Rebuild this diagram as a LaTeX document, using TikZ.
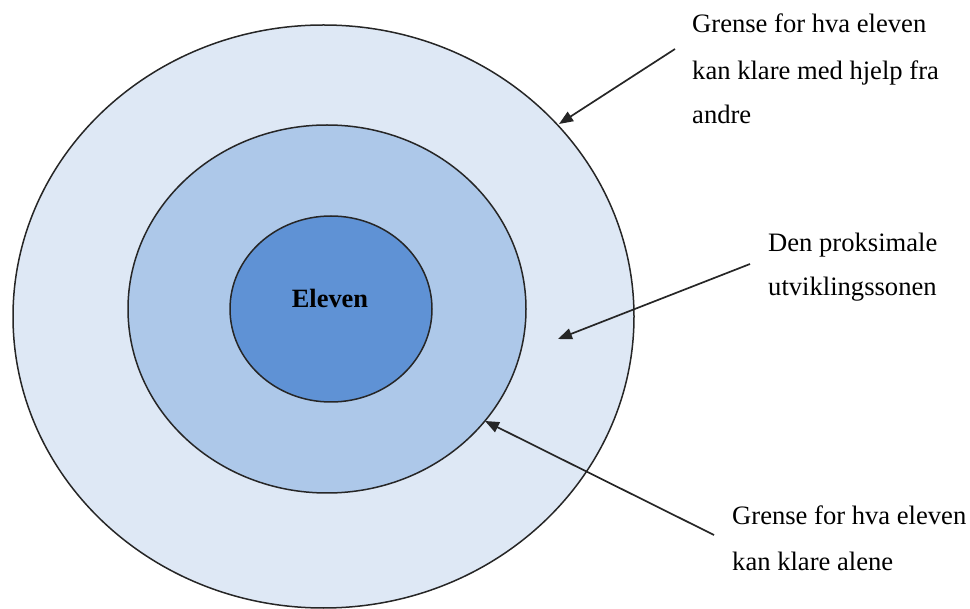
\documentclass[tikz,border=0pt]{standalone}
\usepackage{fontspec}
\setmainfont{Liberation Serif}
\usetikzlibrary{shapes.geometric,arrows.meta}
\definecolor{ringA}{RGB}{222,232,245}
\definecolor{ringB}{RGB}{173,200,233}
\definecolor{ringC}{RGB}{95,146,213}
\tikzset{
  ring/.style={ellipse, draw=black!85, line width=1.5pt, inner sep=0pt},
  pointer/.style={draw=black!85, line width=1.7pt, -{Triangle[length=14pt,width=11pt]}},
  lbl/.style={anchor=base west, inner sep=0pt, align=left, font=\fontsize{26.6}{45}\selectfont},
}
\begin{document}
\begin{tikzpicture}[x=1pt,y=-1pt]
\useasboundingbox (0,0) rectangle (970,609);
\node[ring, fill=ringA, minimum width=621pt, minimum height=583pt] (outer) at (323.5,316.5) {};
\node[ring, fill=ringB, minimum width=398pt, minimum height=368pt] (middle) at (327,309) {};
\node[ring, fill=ringC, minimum width=202pt, minimum height=186pt] (inner) at (331,309) {};
\node[anchor=base, inner sep=0pt, font=\fontsize{26.4}{30}\selectfont\bfseries] (eleven) at (330,308) {Eleven};

\node[lbl] (t1a) at (692,33) {Grense for hva eleven};
\node[lbl] (t1b) at (692,80) {kan klare med hjelp fra};
\node[lbl] (t1c) at (692,124) {andre};
\node[lbl] (t2a) at (768,252) {Den proksimale};
\node[lbl] (t2b) at (768,296) {utviklingssonen};
\node[lbl] (t3a) at (732,525) {Grense for hva eleven};
\node[lbl] (t3b) at (732,570) {kan klare alene};

\coordinate (s1) at (675,49);
\coordinate (e1) at (559,124);
\coordinate (s2) at (750,264);
\coordinate (e2) at (558,339);
\coordinate (s3) at (714,535);
\coordinate (e3) at (485,421);
\draw[pointer] (s1) -- (e1);
\draw[pointer] (s2) -- (e2);
\draw[pointer] (s3) -- (e3);
\end{tikzpicture}
\end{document}
